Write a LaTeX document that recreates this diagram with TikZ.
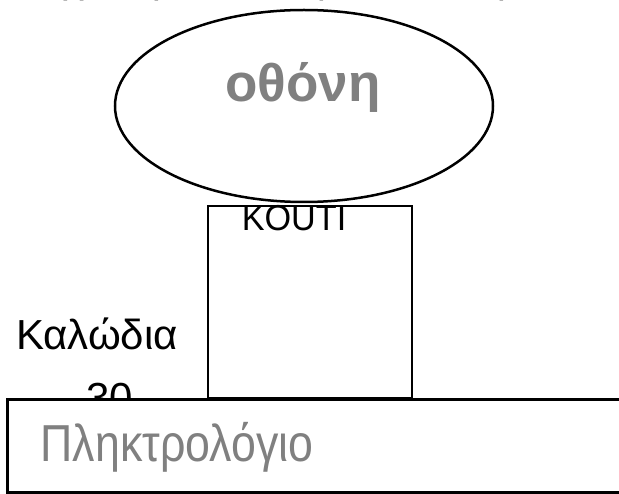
\documentclass[tikz,border=0pt]{standalone}
\usepackage{fontspec}
\setmainfont{Liberation Sans}
\usetikzlibrary{shapes.geometric}
\definecolor{txtgray}{HTML}{808080}
\tikzset{
  screen/.style={draw, line width=2.5pt, ellipse, minimum width=378pt, minimum height=192pt, inner sep=0pt},
  casebox/.style={draw, line width=1.1pt, minimum width=204pt, minimum height=192pt, inner sep=0pt},
  keyboard/.style={draw, line width=3pt, fill=white, minimum width=640pt, minimum height=92pt, inner sep=0pt},
  lbl/.style={inner sep=0pt, anchor=base}
}
\begin{document}
\begin{tikzpicture}[x=1pt,y=-1pt]
\useasboundingbox (0,0) rectangle (619,494);
% cut-off title line above the picture
\begin{scope}
\clip (0,0) rectangle (619,5);
\node[lbl, font=\fontsize{40}{40}\selectfont] (t1) at (62,-7) {μχ};
\node[lbl, font=\fontsize{40}{40}\selectfont] (t2) at (164,-7) {ρ};
\node[lbl, font=\fontsize{40}{40}\selectfont] (t3) at (329,-7) {ρ};
\node[lbl, font=\fontsize{40}{40}\selectfont] (t4) at (509,-7) {ρ};
\end{scope}
\node[screen] (screen) at (304,106) {};
\node[lbl, text=txtgray, font=\fontsize{53}{53}\selectfont\bfseries] (screentxt) at (303,102) {οθόνη};
\node[casebox] (case) at (310,302) {};
\node[lbl, font=\fontsize{36}{36}\selectfont, xscale=0.95] (casetxt) at (294,231) {KOUTI};
\node[lbl, font=\fontsize{42}{42}\selectfont] (cable) at (97,350) {Καλώδια};
\node[lbl, font=\fontsize{42}{42}\selectfont] (thirty) at (110,413) {30};
\node[keyboard] (kbd) at (327,446) {};
\node[lbl, text=txtgray, font=\fontsize{52}{52}\selectfont, xscale=0.86] (kbdtxt) at (177,461) {Πληκτρολόγιο};
\end{tikzpicture}
\end{document}
